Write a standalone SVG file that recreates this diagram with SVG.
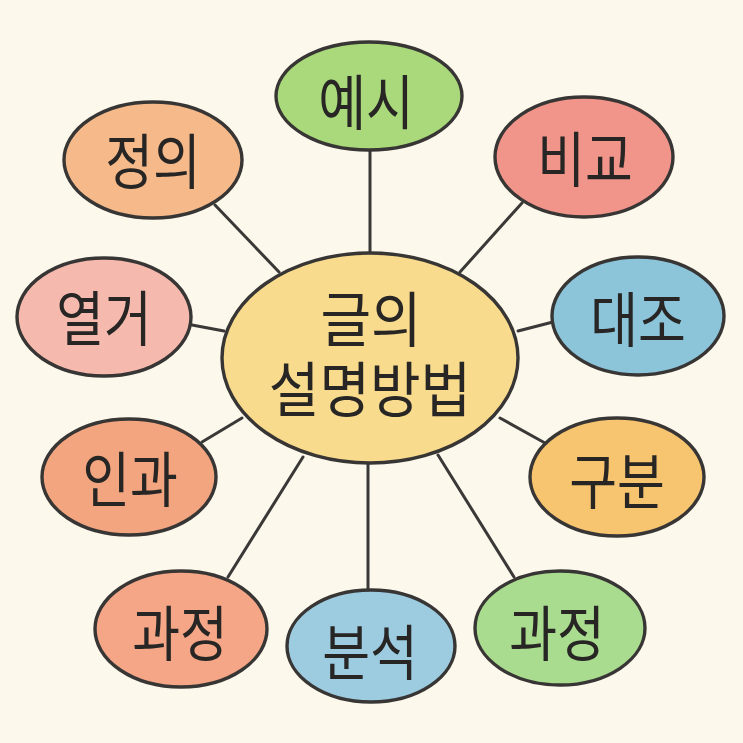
<svg xmlns="http://www.w3.org/2000/svg" width="743" height="743" viewBox="0 0 743 743">
<style>
.bg{fill:#fcf8ec}
.node ellipse{stroke:#383635;stroke-width:3.4}
.lbl{font-family:"Liberation Sans","Noto Sans CJK KR",sans-serif;font-size:52px;fill:#272625;text-anchor:middle;dominant-baseline:central}
.big{font-size:55px}
#connectors line{stroke:#3b3938;stroke-width:3;stroke-linecap:round}
</style>
<rect class="bg" x="0" y="0" width="743" height="743"/>
<g id="connectors">
<line x1="370" y1="150" x2="370" y2="254"/>
<line x1="215" y1="205" x2="279" y2="272"/>
<line x1="522" y1="203" x2="460" y2="272"/>
<line x1="192" y1="325" x2="224" y2="331"/>
<line x1="518" y1="331" x2="553" y2="322"/>
<line x1="202" y1="442" x2="242" y2="418"/>
<line x1="500" y1="418" x2="545" y2="443"/>
<line x1="228" y1="577" x2="303" y2="457"/>
<line x1="368" y1="463" x2="368" y2="590"/>
<line x1="438" y1="455" x2="514" y2="577"/>
</g>
<g id="center" class="node">
<ellipse cx="370" cy="358" rx="148" ry="105" fill="#f8db8c"/>
<text class="lbl big" transform="translate(371,321) scale(1,1.1)">글의</text>
<text class="lbl big" transform="translate(370,391) scale(1,1.1)">설명방법</text>
</g>
<g id="n-yesi" class="node">
<ellipse cx="369" cy="96" rx="93" ry="54" fill="#a9d97a"/>
<text class="lbl" transform="translate(366,104) scale(1,1.15)">예시</text>
</g>
<g id="n-jeongui" class="node">
<ellipse cx="153" cy="160" rx="89" ry="58" fill="#f6ba8a"/>
<text class="lbl" transform="translate(153,163) scale(1,1.15)">정의</text>
</g>
<g id="n-bigyo" class="node">
<ellipse cx="584" cy="157" rx="89" ry="60" fill="#f1958a"/>
<text class="lbl" transform="translate(585,161) scale(1,1.15)">비교</text>
</g>
<g id="n-yeolgeo" class="node">
<ellipse cx="104" cy="317" rx="87" ry="59" fill="#f6b9ae"/>
<text class="lbl" transform="translate(104,320) scale(1,1.15)">열거</text>
</g>
<g id="n-daejo" class="node">
<ellipse cx="638" cy="316" rx="86" ry="59" fill="#8cc4da"/>
<text class="lbl" transform="translate(638,321) scale(1,1.15)">대조</text>
</g>
<g id="n-ingwa" class="node">
<ellipse cx="129" cy="477" rx="87" ry="58" fill="#f3a580"/>
<text class="lbl" transform="translate(130,481) scale(1,1.15)">인과</text>
</g>
<g id="n-gubun" class="node">
<ellipse cx="617" cy="477" rx="87" ry="59" fill="#f7c46f"/>
<text class="lbl" transform="translate(617,483) scale(1,1.15)">구분</text>
</g>
<g id="n-gwajeong1" class="node">
<ellipse cx="181" cy="629" rx="86" ry="58" fill="#f4a686"/>
<text class="lbl" transform="translate(180,635) scale(1,1.15)">과정</text>
</g>
<g id="n-bunseok" class="node">
<ellipse cx="371" cy="646" rx="84" ry="56" fill="#9dcbe0"/>
<text class="lbl" transform="translate(370,654) scale(1,1.15)">분석</text>
</g>
<g id="n-gwajeong2" class="node">
<ellipse cx="560" cy="628" rx="85" ry="57" fill="#aadc8f"/>
<text class="lbl" transform="translate(557,635) scale(1,1.15)">과정</text>
</g>
</svg>
